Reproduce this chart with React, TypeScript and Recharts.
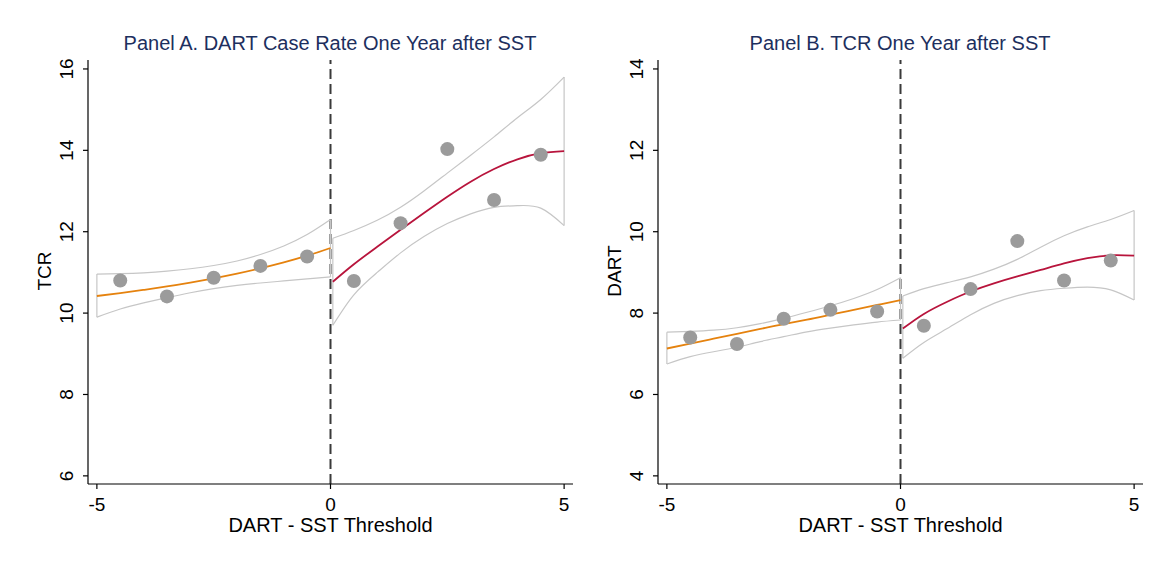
import React from 'react';
import { ComposedChart, Line, Scatter, XAxis, YAxis, ReferenceLine } from 'recharts';

// bin means (x = bin midpoint)
const binX = [-4.5, -3.5, -2.5, -1.5, -0.5, 0.5, 1.5, 2.5, 3.5, 4.5];
const tcrMeans = [10.8, 10.41, 10.87, 11.16, 11.39, 10.79, 12.21, 14.03, 12.78, 13.89];
const dartMeans = [7.4, 7.24, 7.86, 8.08, 8.04, 7.69, 8.59, 9.77, 8.8, 9.29];

// fit grids
const leftGrid = [-5, -4.5, -4, -3.5, -3, -2.5, -2, -1.5, -1, -0.5, 0];
const rightGrid = [0.05, 0.5, 1, 1.5, 2, 2.5, 3, 3.5, 4, 4.5, 5];

// Panel A: TCR
const tcrFitLeft = [10.42, 10.49, 10.57, 10.655, 10.75, 10.855, 10.97, 11.1, 11.245, 11.41, 11.6];
const tcrHiLeft = [10.96, 10.97, 10.99, 11.03, 11.09, 11.17, 11.28, 11.44, 11.65, 11.93, 12.3];
const tcrLoLeft = [9.9, 10.1, 10.25, 10.38, 10.5, 10.6, 10.68, 10.74, 10.79, 10.84, 10.89];
const tcrFitRight = [10.77, 11.2, 11.63, 12.05, 12.46, 12.86, 13.23, 13.54, 13.78, 13.93, 13.98];
const tcrHiRight = [11.84, 12.03, 12.28, 12.6, 13.0, 13.44, 13.88, 14.33, 14.8, 15.25, 15.8];
const tcrLoRight = [9.7, 10.45, 11.0, 11.48, 11.88, 12.2, 12.44, 12.6, 12.64, 12.58, 12.15];

// Panel B: DART
const dartFitLeft = [7.13, 7.25, 7.37, 7.49, 7.61, 7.73, 7.84, 7.96, 8.08, 8.2, 8.32];
const dartHiLeft = [7.53, 7.55, 7.58, 7.64, 7.74, 7.87, 8.02, 8.18, 8.36, 8.58, 8.87];
const dartLoLeft = [6.75, 6.93, 7.05, 7.16, 7.3, 7.42, 7.54, 7.63, 7.71, 7.78, 7.83];
const dartFitRight = [7.62, 7.98, 8.28, 8.53, 8.73, 8.9, 9.06, 9.22, 9.35, 9.42, 9.41];
const dartHiRight = [8.42, 8.6, 8.75, 8.89, 9.08, 9.32, 9.62, 9.9, 10.12, 10.3, 10.52];
const dartLoRight = [6.89, 7.28, 7.62, 7.96, 8.24, 8.43, 8.55, 8.61, 8.64, 8.57, 8.32];

const tcrTicks = [6, 8, 10, 12, 14, 16];
const dartTicks = [4, 6, 8, 10, 12, 14];
const xTicks = [-5, 0, 5];

const FONT = '"Liberation Sans", Arial, sans-serif';
const CI = '#c6c6c6';
const ORANGE = '#e5820e';
const RED = '#b8143c';
const DOT = '#9b9b9b';

const pts = (xs: number[], ys: number[]) => xs.map((x, i) => ({ x, y: ys[i] }));

const RotTick = (props: any) => {
  const { x, y, payload } = props;
  const cx = x - 14;
  return (
    <text x={cx} y={y} transform={`rotate(-90 ${cx} ${y})`} textAnchor="middle"
      dominantBaseline="central" fontSize={19} fontFamily={FONT} fill="#000">
      {payload.value}
    </text>
  );
};

interface PanelProps {
  left: number;
  title: string;
  yLabel: string;
  yDomain: [number, number];
  yTicks: number[];
  means: number[];
  fitL: number[]; hiL: number[]; loL: number[];
  fitR: number[]; hiR: number[]; loR: number[];
}

const Panel = (p: PanelProps) => {
  const W = 580;
  const H = 561;
  const caps = [
    { key: 'c1', d: [{ x: leftGrid[0], y: p.loL[0] }, { x: leftGrid[0], y: p.hiL[0] }] },
    { key: 'c2', d: [{ x: leftGrid[10], y: p.loL[10] }, { x: leftGrid[10], y: p.hiL[10] }] },
    { key: 'c3', d: [{ x: rightGrid[0], y: p.loR[0] }, { x: rightGrid[0], y: p.hiR[0] }] },
    { key: 'c4', d: [{ x: rightGrid[10], y: p.loR[10] }, { x: rightGrid[10], y: p.hiR[10] }] },
  ];
  const curves = [
    { key: 'hl', d: pts(leftGrid, p.hiL) },
    { key: 'll', d: pts(leftGrid, p.loL) },
    { key: 'hr', d: pts(rightGrid, p.hiR) },
    { key: 'lr', d: pts(rightGrid, p.loR) },
  ];
  return (
    <div style={{ position: 'absolute', left: p.left, top: 0, width: W, height: H }}>
      <div style={{ position: 'absolute', left: 30, top: 32, width: 600, textAlign: 'center',
        fontFamily: FONT, fontSize: 20, color: '#1d2f5e', whiteSpace: 'nowrap' }}>
        {p.title}
      </div>
      <ComposedChart width={W} height={H} margin={{ top: 60, right: 7, bottom: 37, left: 20 }}>
        <XAxis type="number" dataKey="x" domain={[-5.19, 5.19]} ticks={xTicks} allowDataOverflow
          height={40} tickSize={5} tickMargin={9} stroke="#000" strokeWidth={1.2}
          tick={{ fontSize: 19, fontFamily: FONT, fill: '#000' }}
          label={(lp: any) => {
            const vb = lp.viewBox;
            return (
              <text x={vb.x + vb.width / 2} y={532} textAnchor="middle" fontSize={20}
                fontFamily={FONT} fill="#000">DART - SST Threshold</text>
            );
          }} />
        <YAxis type="number" dataKey="y" domain={p.yDomain} ticks={p.yTicks} allowDataOverflow
          width={68} tickSize={5} stroke="#000" strokeWidth={1.2} tick={<RotTick />}
          label={() => (
            <text x={44} y={271} transform={`rotate(-90 44 271)`} textAnchor="middle"
              dominantBaseline="central" fontSize={19} fontFamily={FONT} fill="#000">{p.yLabel}</text>
          )} />
        <ReferenceLine x={0} stroke="#3a3a3a" strokeWidth={2} strokeDasharray="10 5" ifOverflow="visible" />
        {curves.map((c) => (
          <Line key={c.key} data={c.d} dataKey="y" type="natural" stroke={CI} strokeWidth={1.2}
            dot={false} activeDot={false} isAnimationActive={false} />
        ))}
        {caps.map((c) => (
          <Line key={c.key} data={c.d} dataKey="y" type="linear" stroke={CI} strokeWidth={1.2}
            dot={false} activeDot={false} isAnimationActive={false} />
        ))}
        <Scatter data={pts(binX, p.means)} dataKey="y" fill={DOT} isAnimationActive={false}
          shape={(sp: any) => <circle cx={sp.cx} cy={sp.cy} r={7} fill={DOT} />} />
        <Line data={pts(leftGrid, p.fitL)} dataKey="y" type="natural" stroke={ORANGE} strokeWidth={1.8}
          dot={false} activeDot={false} isAnimationActive={false} />
        <Line data={pts(rightGrid, p.fitR)} dataKey="y" type="natural" stroke={RED} strokeWidth={1.8}
          dot={false} activeDot={false} isAnimationActive={false} />
      </ComposedChart>
    </div>
  );
};

export default function App() {
  return (
    <div style={{ position: 'absolute', left: 0, top: 0, width: 1160, height: 561, background: '#fff' }}>
      <Panel left={0} title="Panel A. DART Case Rate One Year after SST" yLabel="TCR"
        yDomain={[5.8, 16.22]} yTicks={tcrTicks} means={tcrMeans}
        fitL={tcrFitLeft} hiL={tcrHiLeft} loL={tcrLoLeft}
        fitR={tcrFitRight} hiR={tcrHiRight} loR={tcrLoRight} />
      <Panel left={570} title="Panel B. TCR One Year after SST" yLabel="DART"
        yDomain={[3.8, 14.22]} yTicks={dartTicks} means={dartMeans}
        fitL={dartFitLeft} hiL={dartHiLeft} loL={dartLoLeft}
        fitR={dartFitRight} hiR={dartHiRight} loR={dartLoRight} />
    </div>
  );
}
